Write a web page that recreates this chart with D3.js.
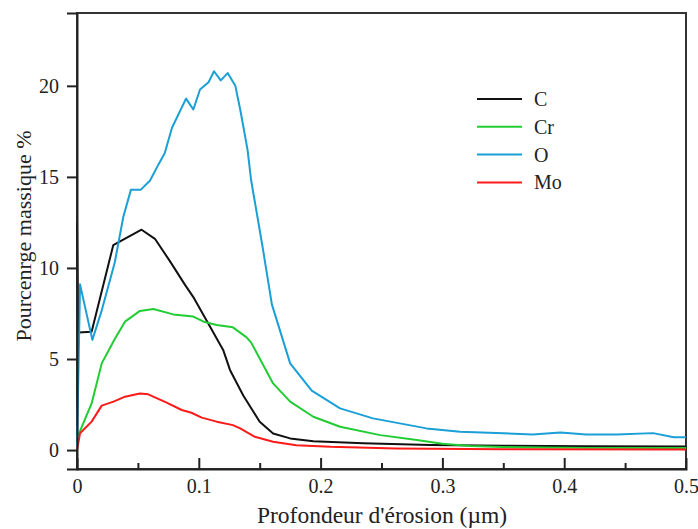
<!DOCTYPE html>
<html><head><meta charset="utf-8">
<script src="https://cdn.jsdelivr.net/npm/d3@7"></script>
<style>body{margin:0;background:#fff}svg{display:block}text{font-family:"Liberation Serif","Times New Roman",serif;fill:#222}</style>
</head><body><svg id="c" width="698" height="529"></svg>
<script>
const seriesNames = ["C","Cr","O","Mo"];
const seriesColors = ["#111111","#22cc33","#1a9fd6","#ff1a1a"];
const xTicks = [0,0.1,0.2,0.3,0.4,0.5];
const xMinorTicks = [0.05,0.15,0.25,0.35,0.45];
const yTicks = [0,5,10,15,20];

const C_x = [0,0.001,0.012,0.0298,0.035,0.053,0.064,0.076,0.0887,0.0955,0.1065,0.12,0.1256,0.1365,0.150,0.161,0.175,0.194,0.235,0.29,0.35,0.42,0.5];
const C_y = [12.5,6.45,6.5,11.26,11.45,12.1,11.6,10.4,9.07,8.4,7.1,5.5,4.4,3.0,1.55,0.91,0.64,0.49,0.37,0.28,0.24,0.21,0.2];
const Cr_x = [0,0.0016,0.012,0.0203,0.031,0.0394,0.0517,0.0627,0.079,0.0955,0.104,0.1147,0.128,0.139,0.143,0.161,0.175,0.194,0.216,0.249,0.279,0.30,0.323,0.36,0.42,0.5];
const Cr_y = [0.8,0.9,2.56,4.76,6.1,7.05,7.64,7.75,7.45,7.33,7.05,6.87,6.74,6.2,5.9,3.66,2.66,1.83,1.28,0.82,0.55,0.35,0.22,0.15,0.12,0.12];
const O_x = [0,0.0025,0.0126,0.02,0.031,0.038,0.0443,0.0525,0.06,0.067,0.072,0.078,0.0895,0.0955,0.101,0.108,0.1125,0.118,0.1237,0.13,0.134,0.14,0.143,0.152,0.16,0.175,0.1927,0.216,0.243,0.287,0.3145,0.35,0.374,0.397,0.418,0.443,0.473,0.49,0.5];
const O_y = [0,9.1,6.05,7.6,10.3,12.8,14.3,14.3,14.8,15.7,16.3,17.7,19.3,18.7,19.8,20.2,20.8,20.3,20.7,20.0,18.7,16.5,14.8,11.3,8.0,4.76,3.26,2.29,1.74,1.19,1.0,0.92,0.86,0.97,0.86,0.86,0.93,0.7,0.7];
const Mo_x = [0,0.0025,0.012,0.0203,0.03,0.0394,0.0517,0.0585,0.0736,0.086,0.094,0.1024,0.1147,0.128,0.134,0.146,0.161,0.18,0.208,0.262,0.35,0.5];
const Mo_y = [0,0.92,1.56,2.44,2.66,2.93,3.11,3.06,2.6,2.2,2.05,1.78,1.56,1.37,1.19,0.73,0.46,0.27,0.18,0.09,0.05,0.03];
const seriesX = [C_x,Cr_x,O_x,Mo_x];
const seriesY = [C_y,Cr_y,O_y,Mo_y];

const L=77,R=686,T=13,B=469;
const svg = d3.select("#c");
const x = d3.scaleLinear().domain([0,0.5]).range([L,R]);
const y = d3.scaleLinear().domain([-1.04,24]).range([B,T]);

// frame
svg.append("rect").attr("x",L).attr("y",T).attr("width",R-L).attr("height",B-T)
  .attr("fill","none").attr("stroke","#333").attr("stroke-width",2);

// lines
const line = d3.line().x(d=>x(d[0])).y(d=>y(d[1]));
seriesNames.forEach((n,i)=>{
  const pts = seriesX[i].map((v,j)=>[v,seriesY[i][j]]);
  svg.append("path").datum(pts).attr("d",line).attr("fill","none")
    .attr("stroke",seriesColors[i]).attr("stroke-width",2).attr("stroke-linejoin","round");
});

// x axis
const xa = svg.append("g").attr("transform",`translate(0,${B})`)
  .call(d3.axisBottom(x).tickValues(xTicks).tickSize(-11).tickPadding(0).tickFormat(d=>d===0?"0":d3.format(".1f")(d)));
xa.select(".domain").attr("stroke","#222").attr("stroke-width",2);
xa.selectAll(".tick line").attr("stroke","#222").attr("stroke-width",2).filter(d=>d===0||d===0.5).remove();
xa.selectAll(".tick text").attr("font-size",20).attr("y",24).attr("dy",0).style("font-family","Liberation Serif");
const xm = svg.append("g").attr("transform",`translate(0,${B})`)
  .call(d3.axisBottom(x).tickValues(xMinorTicks).tickSize(-6).tickFormat(""));
xm.select(".domain").remove();
xm.selectAll(".tick line").attr("stroke","#222").attr("stroke-width",2);

// y axis
const ya = svg.append("g").attr("transform",`translate(${L},0)`)
  .call(d3.axisLeft(y).tickValues(yTicks).tickSize(10).tickPadding(8));
ya.select(".domain").attr("stroke","#222").attr("stroke-width",2);
ya.selectAll(".tick line").attr("stroke","#222").attr("stroke-width",2);
ya.selectAll(".tick text").attr("font-size",20).style("font-family","Liberation Serif");

// titles
svg.append("text").attr("x",382).attr("y",523).attr("text-anchor","middle").attr("font-size",23.5)
  .text("Profondeur d'érosion (µm)");
svg.append("text").attr("transform","translate(31,236) rotate(-90)").attr("text-anchor","middle").attr("font-size",22)
  .text("Pourcenrge massique %");

// legend
const lg = svg.append("g");
seriesNames.forEach((n,i)=>{
  const yy = 99 + i*27.8;
  lg.append("line").attr("x1",477).attr("x2",522).attr("y1",yy).attr("y2",yy)
    .attr("stroke",seriesColors[i]).attr("stroke-width",2);
  lg.append("text").attr("x",534).attr("y",yy+7).attr("font-size",20).text(n);
});
</script></body></html>
